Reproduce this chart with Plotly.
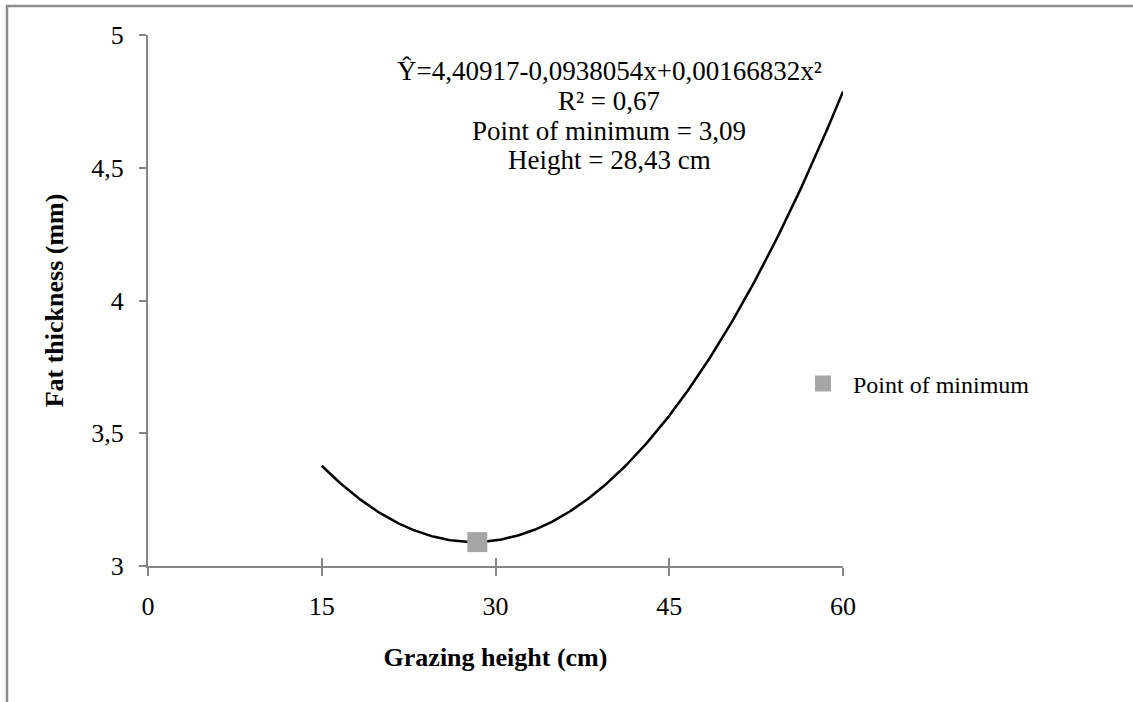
import numpy as np
import plotly.graph_objects as go

# Quadratic fit: Y = b0 + b1*x + b2*x^2 (grazing height in cm)
b0, b1, b2 = 4.40917, -0.0938054, 0.00166832
x_start, x_end = 15, 60

# Point of minimum
min_x = [28.43]
min_y = [3.09]

x_ticks = [0, 15, 30, 45, 60]
y_ticks = [3, 3.5, 4, 4.5, 5]
y_tick_text = ["3", "3,5", "4", "4,5", "5"]

eq_lines = [
    "Ŷ=4,40917-0,0938054x+0,00166832x²",
    "R² = 0,67",
    "Point of minimum = 3,09",
    "Height = 28,43 cm",
]

FONT = "Liberation Serif, Times New Roman, serif"
AXIS_GREY = "#868686"

xs = np.linspace(x_start, x_end, 300)
ys = b0 + b1 * xs + b2 * xs ** 2

fig = go.Figure()
fig.add_trace(go.Scatter(
    x=xs, y=ys, mode="lines",
    line=dict(color="black", width=2.5),
    showlegend=False, hoverinfo="skip",
))
fig.add_trace(go.Scatter(
    x=min_x, y=min_y, mode="markers",
    marker=dict(symbol="square", size=20, color="#a6a6a6"),
    name="Point of minimum",
))

L, R, T, B = 148, 290, 35, 136
W, H = 1133, 702
pw, ph = W - L - R, H - T - B


def px_to_paper_x(px):
    return (px - L) / pw


def px_to_paper_y(py):
    return (H - B - py) / ph


line_centers = [71, 101, 131, 160]
for txt, cy in zip(eq_lines, line_centers):
    fig.add_annotation(
        text=txt, xref="paper", yref="paper",
        x=px_to_paper_x(609), y=px_to_paper_y(cy),
        xanchor="center", yanchor="middle", showarrow=False,
        font=dict(family=FONT, size=27, color="black"),
    )

# Outer chart border (top and left edges)
fig.add_shape(
    type="path", xref="paper", yref="paper",
    path=(f"M {px_to_paper_x(7)} {px_to_paper_y(720)} "
          f"L {px_to_paper_x(7)} {px_to_paper_y(6)} "
          f"L {px_to_paper_x(1150)} {px_to_paper_y(6)}"),
    line=dict(color="#8c8c8c", width=2.5),
)

fig.update_layout(
    width=W, height=H,
    margin=dict(l=L, r=R, t=T, b=B),
    paper_bgcolor="white", plot_bgcolor="white",
    font=dict(family=FONT, size=24, color="black"),
    showlegend=True,
    legend=dict(
        x=px_to_paper_x(793), y=px_to_paper_y(384),
        xanchor="left", yanchor="middle",
        itemwidth=50,
        font=dict(family=FONT, size=24, color="black"),
        bgcolor="rgba(0,0,0,0)",
    ),
    xaxis=dict(
        range=[0, 60], tickvals=x_ticks,
        showline=True, linecolor=AXIS_GREY, linewidth=2,
        ticks="outside", ticklen=8, tickwidth=2, tickcolor=AXIS_GREY,
        ticklabelstandoff=8,
        showgrid=False, zeroline=False,
        tickfont=dict(family=FONT, size=26),
        title=dict(text="<b>Grazing height (cm)</b>",
                   font=dict(family=FONT, size=26), standoff=28),
    ),
    xaxis2=dict(
        range=[0, 60], tickvals=x_ticks, overlaying="x",
        ticks="inside", ticklen=8, tickwidth=2, tickcolor=AXIS_GREY,
        showticklabels=False, showgrid=False, zeroline=False,
        showline=False, side="bottom", matches="x",
    ),
    yaxis=dict(
        range=[3, 5], tickvals=y_ticks, ticktext=y_tick_text,
        showline=True, linecolor=AXIS_GREY, linewidth=2,
        ticks="outside", ticklen=7, tickwidth=2, tickcolor=AXIS_GREY,
        ticklabelstandoff=10,
        showgrid=False, zeroline=False,
        tickfont=dict(family=FONT, size=26),
        title=dict(text="<b>Fat thickness (mm)</b>",
                   font=dict(family=FONT, size=26), standoff=20),
    ),
)

# Invisible trace anchoring the inner tick axis
fig.add_trace(go.Scatter(x=[None], y=[None], xaxis="x2", showlegend=False,
                         hoverinfo="skip"))

fig.write_html("out.html")
